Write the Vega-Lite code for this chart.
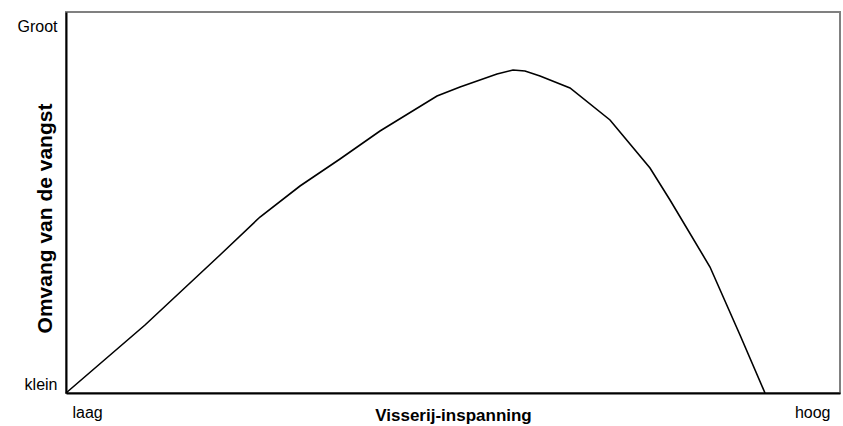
{
  "$schema": "https://vega.github.io/schema/vega-lite/v6.json",
  "width": 774,
  "height": 381,
  "autosize": {"type": "none"},
  "padding": {"left": 66, "top": 12, "right": 3, "bottom": 33},
  "background": "white",
  "config": {
    "font": "Liberation Sans",
    "view": {"stroke": "#808080", "strokeWidth": 2},
    "axis": {"labelFontSize": 16, "labelColor": "black", "titleColor": "black"}
  },
  "data": {
    "values": [
      {"x": 0, "y": 0}, {"x": 79, "y": 68}, {"x": 154, "y": 138}, {"x": 194, "y": 176},
      {"x": 234, "y": 207}, {"x": 274, "y": 234}, {"x": 314, "y": 262}, {"x": 371, "y": 297},
      {"x": 394, "y": 306}, {"x": 431, "y": 319}, {"x": 447, "y": 323}, {"x": 459, "y": 322},
      {"x": 474, "y": 317}, {"x": 504, "y": 305}, {"x": 544, "y": 273}, {"x": 584, "y": 225},
      {"x": 604, "y": 193}, {"x": 644, "y": 126}, {"x": 674, "y": 58}, {"x": 699, "y": 0}
    ]
  },
  "mark": {"type": "line", "color": "black", "strokeWidth": 1.6},
  "encoding": {
    "x": {
      "field": "x", "type": "quantitative",
      "scale": {"domain": [0, 774], "nice": false, "zero": false},
      "axis": {
        "values": [0, 774], "grid": false, "ticks": false,
        "domainColor": "black", "domainWidth": 2,
        "labelExpr": "datum.value == 0 ? 'laag' : 'hoog'",
        "labelPadding": 11,
        "labelAlign": {"condition": {"test": "datum.value == 0", "value": "left"}, "value": "right"},
        "labelOffset": {"condition": {"test": "datum.value == 0", "value": 6}, "value": -10},
        "title": "Visserij-inspanning", "titleFontSize": 17, "titleFontWeight": "bold",
        "titleY": 27, "titleBaseline": "alphabetic"
      }
    },
    "y": {
      "field": "y", "type": "quantitative",
      "scale": {"domain": [0, 381], "nice": false, "zero": false},
      "axis": {
        "values": [0, 381], "grid": false, "ticks": false,
        "domainColor": "black", "domainWidth": 2,
        "labelExpr": "datum.value == 0 ? 'klein' : 'Groot'",
        "labelPadding": 9,
        "labelBaseline": {"condition": {"test": "datum.value == 0", "value": "bottom"}, "value": "top"},
        "labelOffset": {"condition": {"test": "datum.value == 0", "value": -1}, "value": 6},
        "title": "Omvang van de vangst", "titleFontSize": 21, "titleFontWeight": "bold",
        "titleX": -21, "titleY": 206, "titleAngle": -90,
        "titleAlign": "center", "titleBaseline": "middle"
      }
    }
  }
}
